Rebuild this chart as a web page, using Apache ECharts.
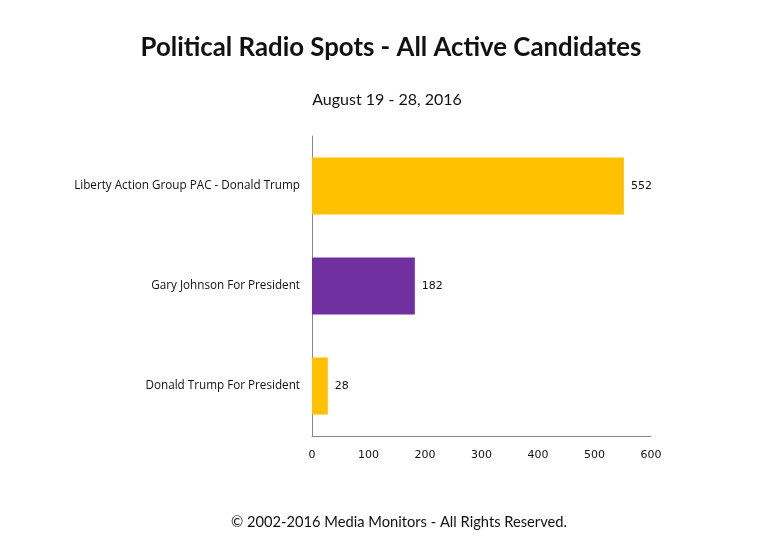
<!DOCTYPE html>
<html>
<head>
<meta charset="utf-8">
<script src="https://cdn.jsdelivr.net/npm/echarts@6/dist/echarts.min.js"></script>
<style>
  html, body { margin: 0; padding: 0; background: #fff; }
  #chart { width: 770px; height: 558px; }
</style>
</head>
<body>
<div id="chart"></div>
<script>
// data, top to bottom as shown
const candidates = [
  "Liberty Action Group PAC - Donald Trump",
  "Gary Johnson For President",
  "Donald Trump For President",
];
const spots = [552, 182, 28];
const barColors = ["#FFC000", "#7030A0", "#FFC000"];

const chart = echarts.init(document.getElementById("chart"));

const option = {
  backgroundColor: "#fff",
  animation: false,
  title: [
    {
      text: "Political Radio Spots - All Active Candidates",
      left: 386,
      textAlign: "center",
      top: 30,
      textStyle: { fontFamily: "Lato", fontSize: 25.8, fontWeight: "bold", color: "#111" },
    },
    {
      text: "August 19 - 28, 2016",
      left: 382,
      textAlign: "center",
      top: 87,
      textStyle: { fontFamily: "Lato", fontSize: 16, fontWeight: "normal", color: "#111" },
    },
    {
      text: "© 2002-2016 Media Monitors - All Rights Reserved.",
      left: 394,
      textAlign: "center",
      top: 510,
      textStyle: { fontFamily: "Lato", fontSize: 14.7, fontWeight: "normal", color: "#111" },
    },
  ],
  grid: {
    left: 312,
    width: 339,
    top: 136,
    height: 300,
    containLabel: false,
  },
  xAxis: {
    type: "value",
    min: 0,
    max: 600,
    interval: 100,
    axisLine: { show: true, lineStyle: { color: "#888" } },
    axisTick: { show: false },
    splitLine: { show: false },
    axisLabel: {
      margin: 14,
      fontFamily: "DejaVu Sans",
      fontSize: 11,
      color: "#111",
    },
  },
  yAxis: {
    type: "category",
    data: candidates,
    inverse: true,
    axisLine: { show: true, lineStyle: { color: "#888" } },
    axisTick: { show: false },
    axisLabel: {
      margin: 12,
      fontFamily: "Open Sans",
      fontSize: 11.7,
      color: "#111",
    },
  },
  series: [
    {
      type: "bar",
      data: spots.map((v, i) => ({ value: v, itemStyle: { color: barColors[i] } })),
      barWidth: "57%",
      label: {
        show: true,
        position: "right",
        distance: 7,
        fontFamily: "DejaVu Sans",
        fontSize: 11,
        color: "#111",
      },
    },
  ],
};

chart.setOption(option);
</script>
</body>
</html>
